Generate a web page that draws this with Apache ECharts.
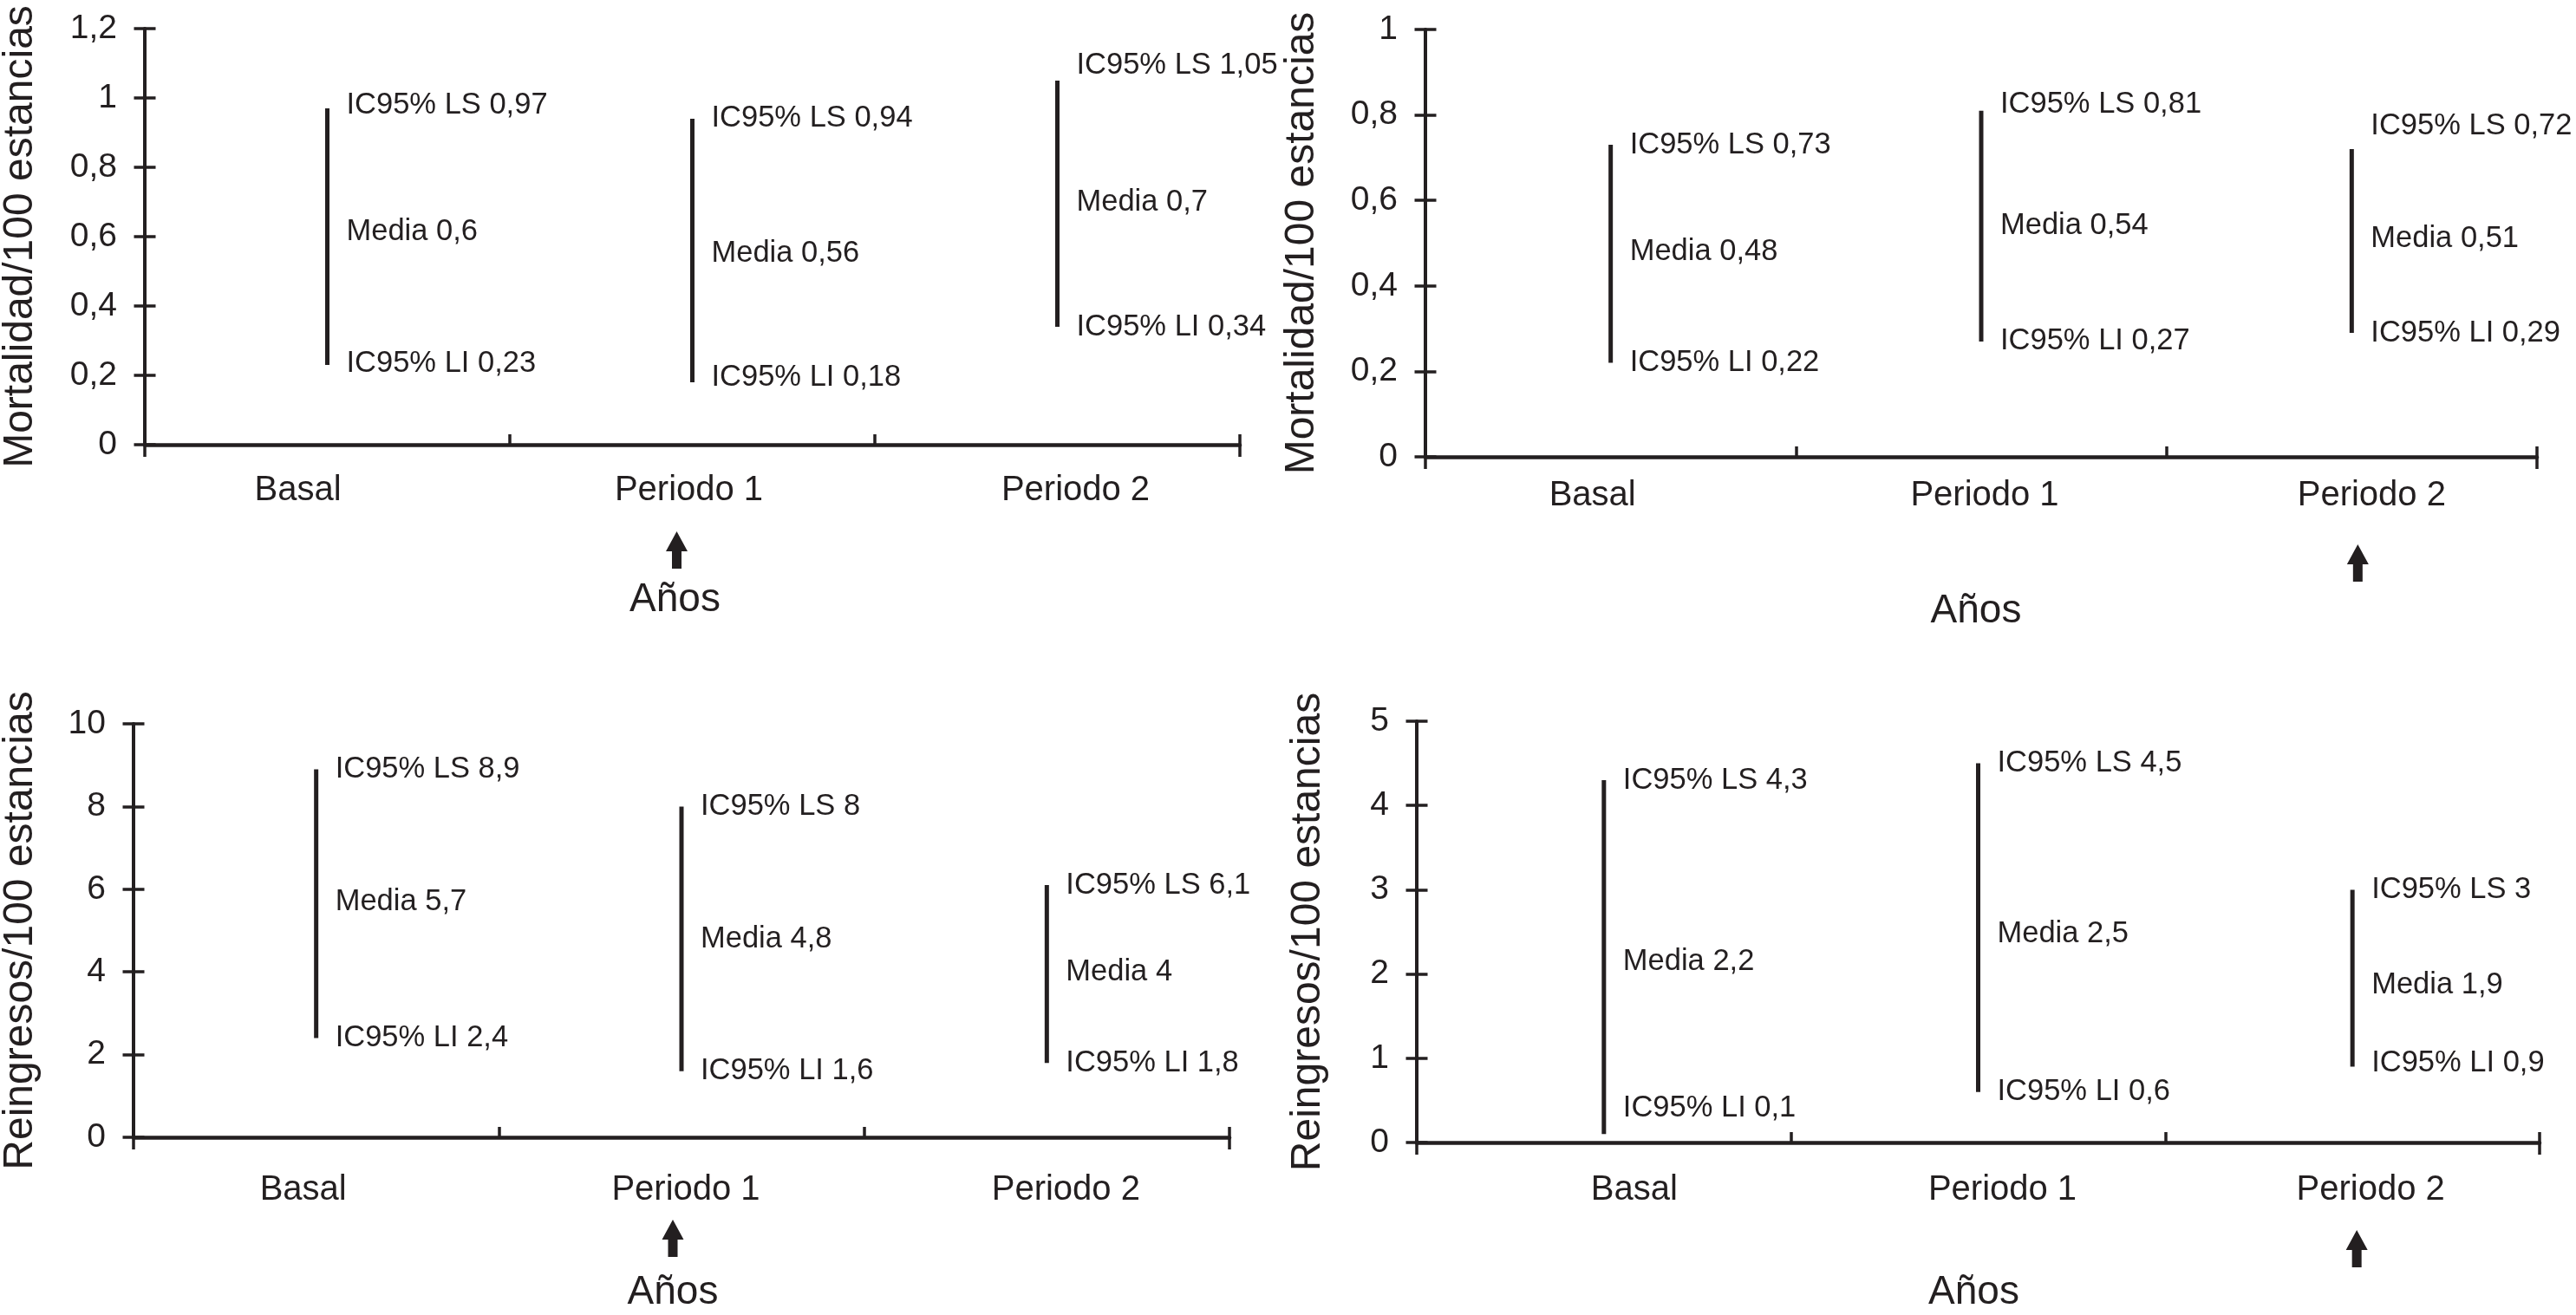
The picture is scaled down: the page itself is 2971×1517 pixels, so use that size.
<!DOCTYPE html>
<html>
<head>
<meta charset="utf-8">
<script src="https://cdn.jsdelivr.net/npm/echarts@6/dist/echarts.min.js"></script>
<style>
html,body{margin:0;padding:0;background:#ffffff;}
#chart{width:2971px;height:1517px;}
</style>
</head>
<body>
<div id="chart"></div>
<script>
// ---------------- data ----------------
const categories = ['Basal', 'Periodo 1', 'Periodo 2'];

const mortA_LI    = [0.23, 0.18, 0.34];
const mortA_Media = [0.6, 0.56, 0.7];
const mortA_LS    = [0.97, 0.94, 1.05];

const mortB_LI    = [0.22, 0.27, 0.29];
const mortB_Media = [0.48, 0.54, 0.51];
const mortB_LS    = [0.73, 0.81, 0.72];

const reinA_LI    = [2.4, 1.6, 1.8];
const reinA_Media = [5.7, 4.8, 4];
const reinA_LS    = [8.9, 8, 6.1];

const reinB_LI    = [0.1, 0.6, 0.9];
const reinB_Media = [2.2, 2.5, 1.9];
const reinB_LS    = [4.3, 4.5, 3];

const yMax      = [1.2, 1, 10, 5];
const yInterval = [0.2, 0.2, 2, 1];
const yTitles   = ['Mortalidad/100 estancias', 'Mortalidad/100 estancias',
                   'Reingresos/100 estancias', 'Reingresos/100 estancias'];
const xTitle    = 'Años';
const arrowCategory = ['Periodo 1', 'Periodo 2', 'Periodo 1', 'Periodo 2'];

const panelsData = [
  { LI: mortA_LI, Media: mortA_Media, LS: mortA_LS },
  { LI: mortB_LI, Media: mortB_Media, LS: mortB_LS },
  { LI: reinA_LI, Media: reinA_Media, LS: reinA_LS },
  { LI: reinB_LI, Media: reinB_Media, LS: reinB_LS }
];

// ---------------- layout / style ----------------
const INK = '#231f20';
const FONT = '"Liberation Sans", Arial, Helvetica, sans-serif';

const layout = [
  { grid: { left: 167,  top: 33,  width: 1263, height: 480 }, yGap: 119, catMargin: 33, nameGap: 156, nameShift: -20,
    catNudge: [-34, -4, 21], arrowDx: -18, arrowDy: 100,
    dy: { LS: [-4, -1, -18], Media: [-6, 3, 0], LI: [-2, -6, 0] } },
  { grid: { left: 1644, top: 34,  width: 1282, height: 493 }, yGap: 118, catMargin: 25, nameGap: 155, nameShift: -6,
    catNudge: [-21, 4, 23], arrowDx: 7, arrowDy: 101,
    dy: { LS: [0, -7, -27], Media: [0, 0, 0], LI: [0, 0, 0] } },
  { grid: { left: 154,  top: 835, width: 1264, height: 477 }, yGap: 106, catMargin: 41, nameGap: 156, nameShift: -10,
    catNudge: [-15, 5, 22], arrowDx: -10, arrowDy: 95,
    dy: { LS: [0, 0, 0], Media: [0, 0, 0], LI: [0, 0, 0] } },
  { grid: { left: 1634, top: 832, width: 1295, height: 486 }, yGap: 101, catMargin: 35, nameGap: 150, nameShift: -5,
    catNudge: [35, 28, 21], arrowDx: 5, arrowDy: 101,
    dy: { LS: [0, 0, 0], Media: [5, 2, 3], LI: [-30, 0, -4] } }
];

const fmt = v => String(+(+v).toFixed(2)).replace('.', ',');

// ---------------- build option ----------------
const grids = [], xAxes = [], yAxes = [], series = [];

layout.forEach((L, g) => {
  grids.push(Object.assign({ containLabel: false, outerBoundsMode: 'none' }, L.grid));

  const rich = {};
  L.catNudge.forEach((dx, i) => {
    rich['n' + i] = {
      fontSize: 40, fontFamily: FONT, color: INK,
      padding: dx >= 0 ? [0, 0, 0, 2 * dx] : [0, -2 * dx, 0, 0]
    };
  });

  // primary x axis (inside ticks, labels, name)
  xAxes.push({
    type: 'category', gridIndex: g, data: categories, position: 'bottom',
    boundaryGap: true,
    axisLine: { show: true, onZero: false, lineStyle: { color: INK, width: 4.5 } },
    axisTick: { show: true, inside: true, length: 12, lineStyle: { color: INK, width: 3.5 } },
    axisLabel: {
      show: true, margin: L.catMargin, interval: 0,
      formatter: (v, i) => '{n' + i + '|' + v + '}', rich: rich
    },
    name: xTitle, nameLocation: 'middle', nameGap: L.nameGap,
    nameTextStyle: {
      fontSize: 46, fontFamily: FONT, color: INK,
      padding: L.nameShift < 0 ? [0, -2 * L.nameShift, 0, 0] : [0, 0, 0, 2 * L.nameShift]
    },
    splitLine: { show: false }
  });
  // secondary x axis: outside ticks at the two ends
  xAxes.push({
    type: 'category', gridIndex: g, data: categories, position: 'bottom',
    boundaryGap: true,
    axisLine: { show: false, onZero: false },
    axisTick: { show: true, inside: false, length: 14, interval: (idx) => idx === 0,
                lineStyle: { color: INK, width: 3.5 } },
    axisLabel: { show: false },
    splitLine: { show: false }
  });

  // primary y axis (outside ticks + labels + title)
  yAxes.push({
    type: 'value', gridIndex: g, position: 'left',
    min: 0, max: yMax[g], interval: yInterval[g],
    axisLine: { show: true, lineStyle: { color: INK, width: 4 } },
    axisTick: { show: true, inside: false, length: 12.5, lineStyle: { color: INK, width: 3.5 } },
    axisLabel: { show: true, margin: 32, fontSize: 39, fontFamily: FONT, color: INK, formatter: v => fmt(v) },
    splitLine: { show: false },
    name: yTitles[g], nameLocation: 'middle', nameRotate: 90, nameGap: L.yGap,
    nameTextStyle: { fontSize: 48, fontFamily: FONT, color: INK }
  });
  // secondary y axis (inside ticks so ticks cross the axis)
  yAxes.push({
    type: 'value', gridIndex: g, position: 'left',
    min: 0, max: yMax[g], interval: yInterval[g],
    axisLine: { show: false },
    axisTick: { show: true, inside: true, length: 12.5, lineStyle: { color: INK, width: 3.5 } },
    axisLabel: { show: false },
    splitLine: { show: false }
  });

  const D = panelsData[g];
  const rows = categories.map((c, i) => [i, D.LI[i], D.Media[i], D.LS[i]]);

  series.push({
    type: 'custom', xAxisIndex: 2 * g, yAxisIndex: 2 * g, clip: false,
    encode: { x: 0, y: [1, 2, 3] },
    data: rows,
    renderItem: (params, api) => {
      const i = api.value(0);
      const lo = api.value(1), me = api.value(2), hi = api.value(3);
      const pLo = api.coord([i, lo]);
      const pMe = api.coord([i, me]);
      const pHi = api.coord([i, hi]);
      const x = pLo[0];
      const tx = x + 22;
      const mk = (txt, y) => ({
        type: 'text', x: tx, y: y,
        style: { text: txt, fill: INK, fontSize: 34.5, fontFamily: FONT, align: 'left', verticalAlign: 'middle' }
      });
      return {
        type: 'group',
        children: [
          { type: 'line', shape: { x1: x, y1: pLo[1], x2: x, y2: pHi[1] },
            style: { stroke: INK, lineWidth: 5, lineCap: 'butt' } },
          mk('IC95% LS ' + fmt(hi), pHi[1] + L.dy.LS[i]),
          mk('Media ' + fmt(me), pMe[1] + L.dy.Media[i]),
          mk('IC95% LI ' + fmt(lo), pLo[1] + L.dy.LI[i])
        ]
      };
    },
    silent: true, z: 5
  });

  // arrow under the marked period
  series.push({
    type: 'custom', xAxisIndex: 2 * g, yAxisIndex: 2 * g, clip: false,
    encode: { x: 0, y: 1 },
    data: [[categories.indexOf(arrowCategory[g]), 0]],
    renderItem: (params, api) => {
      const p = api.coord([api.value(0), 0]);
      const x = p[0] + L.arrowDx;
      const t = p[1] + L.arrowDy;
      const hw = 12.5, sw = 5.5, hh = 23, tot = 43;
      return {
        type: 'polygon',
        shape: { points: [[x, t], [x + hw, t + hh], [x + sw, t + hh], [x + sw, t + tot],
                          [x - sw, t + tot], [x - sw, t + hh], [x - hw, t + hh]] },
        style: { fill: INK }
      };
    },
    silent: true, z: 5
  });
});

const chart = echarts.init(document.getElementById('chart'), null, { renderer: 'canvas' });
chart.setOption({
  backgroundColor: '#ffffff',
  animation: false,
  textStyle: { fontFamily: FONT, color: INK },
  grid: grids,
  xAxis: xAxes,
  yAxis: yAxes,
  series: series
});
</script>
</body>
</html>
